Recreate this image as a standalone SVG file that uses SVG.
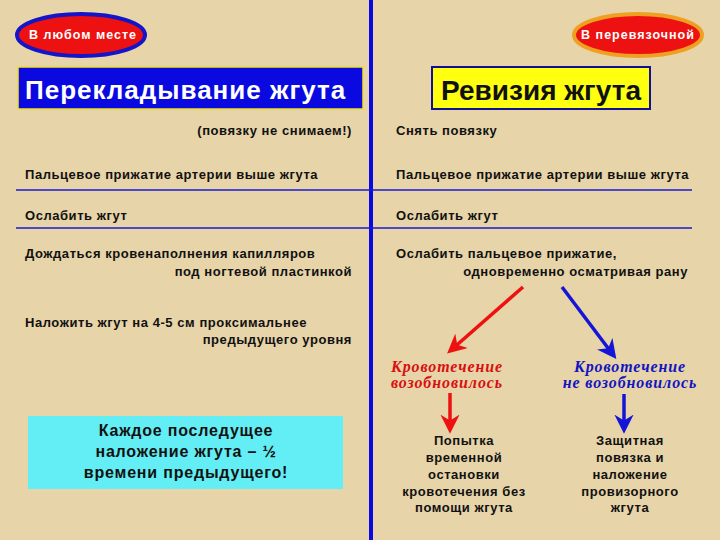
<svg xmlns="http://www.w3.org/2000/svg" width="720" height="540" viewBox="0 0 720 540">
<defs>
<style>
.t{font-family:"Liberation Sans",Arial,sans-serif;font-weight:bold;font-size:13px;fill:#111;letter-spacing:0.55px}
.c{text-anchor:middle}
.e{text-anchor:end}
.i{font-family:"Liberation Serif","Times New Roman",serif;font-style:italic;font-weight:bold;font-size:16px;letter-spacing:0.9px;text-anchor:middle}
.n{font-size:16px;letter-spacing:0.8px}
.rule{stroke:#1a1ad0;stroke-width:1.5}
</style>
<marker id="ar" viewBox="0 0 10 10" refX="8" refY="5" markerWidth="5.5" markerHeight="5.5" orient="auto" markerUnits="strokeWidth"><path d="M0,0 L10,5 L0,10 L3,5 Z" fill="#ee1111"/></marker>
<marker id="ab" viewBox="0 0 10 10" refX="8" refY="5" markerWidth="5.5" markerHeight="5.5" orient="auto" markerUnits="strokeWidth"><path d="M0,0 L10,5 L0,10 L3,5 Z" fill="#1515d8"/></marker>
</defs>
<rect width="720" height="540" fill="#e7d4a8"/>
<line x1="371" y1="0" x2="371" y2="540" stroke="#0a0ae0" stroke-width="4"/>
<g id="badge-left">
<ellipse cx="81" cy="35" rx="64" ry="21" fill="#ee1111" stroke="#1414c8" stroke-width="4"/>
<text x="83" y="39" class="t c" style="fill:#fff;font-size:12.5px;letter-spacing:1px">В любом месте</text>
</g>
<g id="badge-right">
<ellipse cx="638" cy="35" rx="64" ry="21" fill="#ee1111" stroke="#f0a020" stroke-width="4"/>
<text x="638" y="39" class="t c" style="fill:#fff;font-size:12.5px;letter-spacing:1px">В перевязочной</text>
</g>
<g id="title-left">
<rect x="18" y="67" width="345" height="42" fill="#0a0ae0" stroke="#f0e030" stroke-width="1.5"/>
<text x="25" y="99" class="t" style="fill:#fff;font-size:26px;letter-spacing:1px">Перекладывание жгута</text>
</g>
<g id="title-right">
<rect x="432" y="67" width="218" height="42" fill="#ffff10" stroke="#101090" stroke-width="2"/>
<text x="541" y="100" class="t c" style="font-size:28px;letter-spacing:0">Ревизия жгута</text>
</g>
<g id="left-steps">
<text x="352" y="135" class="t e">(повязку не снимаем!)</text>
<text x="25" y="179" class="t">Пальцевое прижатие артерии выше жгута</text>
<line x1="16" y1="190" x2="371" y2="190" class="rule"/>
<text x="25" y="220" class="t">Ослабить жгут</text>
<line x1="16" y1="228" x2="371" y2="228" class="rule"/>
<text x="25" y="258" class="t">Дождаться кровенаполнения капилляров</text>
<text x="352" y="276" class="t e">под ногтевой пластинкой</text>
<text x="25" y="327" class="t">Наложить жгут на  4-5 см проксимальнее</text>
<text x="352" y="344" class="t e">предыдущего уровня</text>
</g>
<g id="right-steps">
<text x="396" y="135" class="t">Снять повязку</text>
<text x="396" y="179" class="t">Пальцевое прижатие артерии выше жгута</text>
<line x1="371" y1="190" x2="692" y2="190" class="rule"/>
<text x="396" y="220" class="t">Ослабить жгут</text>
<line x1="371" y1="228" x2="692" y2="228" class="rule"/>
<text x="396" y="258" class="t">Ослабить пальцевое прижатие,</text>
<text x="688" y="276" class="t e">одновременно осматривая рану</text>
</g>
<g id="note">
<rect x="28" y="416" width="315" height="73" fill="#62eef4"/>
<text x="186" y="436" class="t c n">Каждое последущее</text>
<text x="186" y="457" class="t c n">наложение жгута – ½</text>
<text x="186" y="478" class="t c n">времени предыдущего!</text>
</g>
<g id="resumed">
<text x="447" y="372" class="i" style="fill:#d81010">Кровотечение</text>
<text x="447" y="388" class="i" style="fill:#d81010">возобновилось</text>
</g>
<g id="not-resumed">
<text x="630" y="372" class="i" style="fill:#1414c0">Кровотечение</text>
<text x="630" y="388" class="i" style="fill:#1414c0">не возобновилось</text>
</g>
<g id="temp-stop">
<text x="464" y="445" class="t c">Попытка</text>
<text x="464" y="462" class="t c">временной</text>
<text x="464" y="479" class="t c">остановки</text>
<text x="464" y="496" class="t c">кровотечения без</text>
<text x="464" y="512" class="t c">помощи жгута</text>
</g>
<g id="protective">
<text x="630" y="445" class="t c">Защитная</text>
<text x="630" y="462" class="t c">повязка и</text>
<text x="630" y="479" class="t c">наложение</text>
<text x="630" y="496" class="t c">провизорного</text>
<text x="630" y="512" class="t c">жгута</text>
</g>
<g id="connectors">
<line x1="523" y1="287" x2="450" y2="351" stroke="#ee1111" stroke-width="3.5" marker-end="url(#ar)"/>
<line x1="562" y1="287" x2="614" y2="356" stroke="#1515d8" stroke-width="3.5" marker-end="url(#ab)"/>
<line x1="450" y1="393" x2="450" y2="430" stroke="#ee1111" stroke-width="3.5" marker-end="url(#ar)"/>
<line x1="624" y1="394" x2="624" y2="430" stroke="#1515d8" stroke-width="3.5" marker-end="url(#ab)"/>
</g>
</svg>
